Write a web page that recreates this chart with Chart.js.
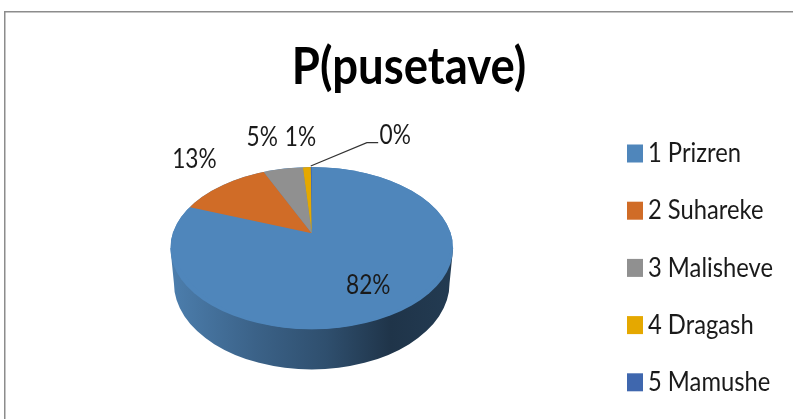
<!DOCTYPE html>
<html><head><meta charset="utf-8">
<style>html,body{margin:0;padding:0;background:#fff}canvas{display:block}</style>
<script src="https://cdn.jsdelivr.net/npm/chart.js@4"></script>
</head><body><canvas id="c" width="793" height="419"></canvas>
<script>
const categories = ["1 Prizren","2 Suhareke","3 Malisheve","4 Dragash","5 Mamushe"];
const values = [81.8,12.6,4.6,0.9,0.1];
const colors = ["#4f86bb","#d06c27","#909090","#e5a800","#3f67ae"];
const titleText = "P(pusetave)";

const FONT = 'Lato';
function stretchedText(ctx, text, x, y, size, sx, align){
  ctx.save();
  ctx.font = size+'px '+FONT;
  ctx.fillStyle = '#1a1a1a';
  ctx.textBaseline = 'middle';
  ctx.textAlign = align;
  ctx.translate(x,y);
  ctx.scale(sx,1);
  ctx.fillText(text,0,0);
  ctx.restore();
}
// label anchors relative to the pie centre, in units of the outer radius
const labelAnchors = [[0.4,0.37],[-0.83,-0.52],[-0.35,-0.675],[-0.08,-0.675],[0.59,-0.69]];

const pie3d = {
  id:'pie3d',
  afterLayout(chart){
    const tb = chart.titleBlock;
    if(tb._wrapped) return;
    tb._wrapped = true;
    const orig = tb.draw;
    tb.draw = function(){
      const c = chart.ctx, mid = (tb.left+tb.right)/2;
      c.save();
      c.translate(409,5);
      c.scale(0.875,1);
      c.translate(-mid,0);
      orig.call(tb);
      c.restore();
    };
  },
  beforeDraw(chart){
    const c = chart.ctx;
    c.save();
    c.strokeStyle='#8c8c8c'; c.lineWidth=1.5;
    c.beginPath(); c.moveTo(4.75,chart.height); c.lineTo(4.75,11.75); c.lineTo(chart.width,11.75); c.stroke();
    c.restore();
  },
  beforeDatasetsDraw(chart){
    const c = chart.ctx, meta = chart.getDatasetMeta(0), a = meta.data[0];
    const cx=a.x, cy=a.y, r=a.outerRadius;
    const upS=0.468, loS=0.681, eCy=cy+r*0.106, eRy=r*0.574;
    const rb=r*0.975, dTop=r*0.248, bRy=r*0.61;
    // side wall
    const g=c.createLinearGradient(cx-r,0,cx+r,0);
    g.addColorStop(0,'#4c7ead'); g.addColorStop(0.3,'#3b6288'); g.addColorStop(0.55,'#2f4f6e');
    g.addColorStop(0.78,'#1f3449'); g.addColorStop(1,'#233b52');
    c.save(); c.fillStyle=g; c.beginPath();
    c.moveTo(cx-r,eCy); c.lineTo(cx-rb,eCy+dTop);
    c.ellipse(cx,eCy+dTop,rb,bRy,0,Math.PI,0,true);
    c.lineTo(cx+r,eCy); c.closePath(); c.fill(); c.restore();
    // top face: base ellipse in the first slice's colour
    c.save(); c.fillStyle=colors[0]; c.beginPath(); c.ellipse(cx,eCy,r,eRy,0,0,Math.PI*2); c.fill(); c.restore();
    const phase=(top)=>{
      c.beginPath(); c.ellipse(cx,eCy,r,eRy,0,0,Math.PI*2); c.clip();
      c.beginPath();
      if(top) c.rect(0,0,chart.width,cy+0.5); else c.rect(0,cy,chart.width,chart.height-cy);
      c.clip();
      c.translate(cx,cy); c.scale(1,top?upS:loS); c.translate(-cx,-cy);
    };
    c.save(); phase(true); meta.controller.draw(); c.restore();
    c.save(); phase(false);
  },
  afterDatasetsDraw(chart){
    const c = chart.ctx, a = chart.getDatasetMeta(0).data[0];
    c.restore();
    const cx=a.x, cy=a.y, r=a.outerRadius;
    const total=values.reduce((s,v)=>s+v,0);
    // leader line for the smallest slice
    c.save(); c.strokeStyle='#333'; c.lineWidth=1.2; c.beginPath();
    c.moveTo(cx-1,cy-r*0.475); c.lineTo(cx+r*0.39,cy-r*0.64); c.lineTo(cx+r*0.47,cy-r*0.64); c.stroke(); c.restore();
    values.forEach((v,i)=>{
      stretchedText(c,Math.round(v/total*100)+'%',cx+labelAnchors[i][0]*r,cy+labelAnchors[i][1]*r,27,0.84,'center');
    });
    // legend
    const lx=627, ly0=153.5, step=57.2;
    categories.forEach((t,i)=>{
      const y=ly0+step*i;
      c.fillStyle=colors[i]; c.fillRect(lx,y-9,16,18);
      stretchedText(c,t,lx+21,y,27,0.88,'left');
    });
  }
};

new Chart(document.getElementById('c'),{
  type:'pie',
  data:{labels:categories,datasets:[{data:values,backgroundColor:colors,borderWidth:0}]},
  options:{
    responsive:false,animation:false,
    rotation:0,
    layout:{padding:{left:170,right:339.5,top:0,bottom:44.5}},
    plugins:{
      legend:{display:false},tooltip:{enabled:false},
      title:{display:true,text:titleText,color:'#000',align:'center',
        font:{family:FONT,size:52,weight:'bold',lineHeight:1.15},padding:{top:32,bottom:0}}
    }
  },
  plugins:[pie3d]
});
</script></body></html>
